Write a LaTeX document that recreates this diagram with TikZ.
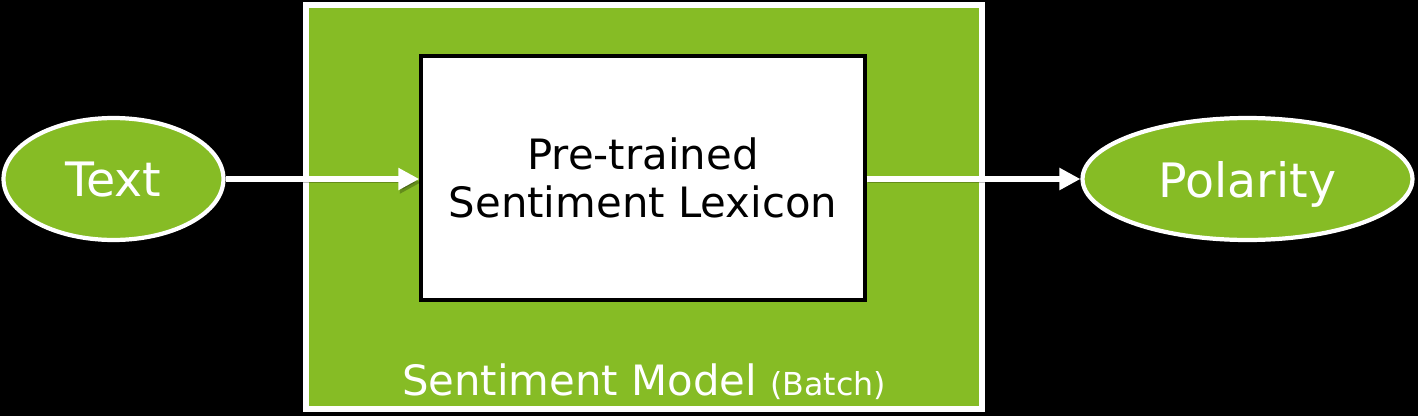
\documentclass[tikz,border=0pt]{standalone}
\usepackage{fontspec}
\setmainfont{DejaVu Sans}
\usetikzlibrary{arrows.meta,shapes.geometric}
\definecolor{mgreen}{RGB}{134,188,37}

\tikzset{
  flowarrow/.style={draw=white,line width=3.4pt,-{Triangle[length=0.42cm,width=0.42cm]},
    preaction={draw=black,opacity=.25,transform canvas={shift={(0.03cm,-0.07cm)}}}},
  ioellipse/.style={ellipse,draw=white,fill=mgreen,line width=2.4pt,inner sep=0pt,
    minimum height=2.44cm,text=white,text depth=0pt,font=\fontsize{27}{32}\selectfont},
}

\begin{document}
\begin{tikzpicture}[x=0.02cm,y=-0.02cm]
        \fill[black] (0,0) rectangle (1418,416);% background
        \useasboundingbox (0,0) rectangle (1418,416);
        % the model frame with the lexicon inside
        \node[draw=white,fill=mgreen,line width=3pt,minimum width=13.52cm,minimum height=8.08cm] (model) at (644,207) {};
        \node[anchor=base,text=white,font=\fontsize{23.8}{28}\selectfont] (modellabel) at (644,395)
            {Sentiment Model {\fontsize{18}{22}\selectfont(Batch)}};
        \node[draw=black,fill=white,line width=2pt,minimum width=8.88cm,minimum height=4.88cm,
            align=center,font=\fontsize{23.8}{27.5}\selectfont] (lexicon) at (643,178)
            {Pre-trained\\Sentiment Lexicon};
        % input and output
        \node[ioellipse,minimum width=4.4cm] (text) at (113.5,179) {Text};
        \node[ioellipse,minimum width=6.6cm] (polarity) at (1247.5,179) {Polarity};
        \draw[flowarrow] (text.east) -- (text.east -| lexicon.west);
        \draw[flowarrow] (polarity.west -| lexicon.east) -- (polarity.west);
\end{tikzpicture}
\end{document}
